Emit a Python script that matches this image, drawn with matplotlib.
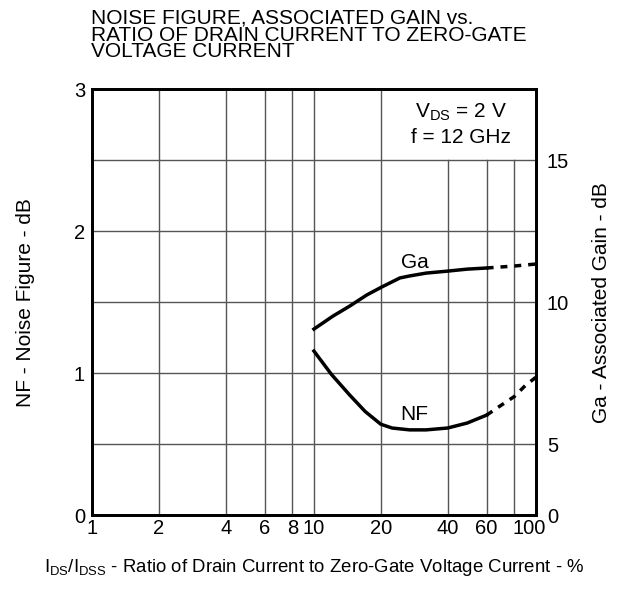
import matplotlib

matplotlib.use('Agg')
import matplotlib.pyplot as plt
import matplotlib.transforms as mtransforms

plt.rcParams['font.family'] = ['Liberation Sans', 'DejaVu Sans']

# IDS/IDSS ratio (%) and curve values
nf_x = [10, 12, 14.5, 17, 20, 22.5, 27, 32, 40, 49, 60]
nf_db = [1.155, 0.99, 0.845, 0.73, 0.64, 0.613, 0.60, 0.60, 0.613, 0.648, 0.704]
nf_x_ext = [60, 70, 80, 90, 100]
nf_db_ext = [0.704, 0.775, 0.835, 0.915, 0.97]

ga_x = [10, 12.2, 14.5, 17.3, 20.2, 24.4, 27, 32, 40, 49, 60]
ga_db = [9.05, 9.51, 9.86, 10.25, 10.53, 10.85, 10.92, 11.02, 11.09, 11.16, 11.2]
ga_x_ext = [60, 80, 100]
ga_db_ext = [11.2, 11.27, 11.34]

x_ticks = [1, 2, 4, 6, 8, 10, 20, 40, 60, 100]
x_grid_full = [2, 4, 6, 8, 10, 20]
x_grid_short = [40, 60, 80]
nf_ticks = [0, 1, 2, 3]
ga_ticks = [2.5, 5, 10, 15]
ga_tick_labels = ['0', '5', '10', '15']

fig = plt.figure(figsize=(6.26, 5.90), dpi=100)
ax = fig.add_axes([0.147, 0.127, 0.709, 0.722])
ax.set_xscale('log')
ax.set_xlim(1, 100)
ax.set_ylim(0, 3)

# grid (the upper right cell is left open for the conditions box)
for y in [0.5, 1.0, 1.5, 2.0, 2.5]:
    ax.axhline(y, color='#555555', linewidth=1.0, zorder=1)
for x in x_grid_full:
    ax.axvline(x, color='#555555', linewidth=1.0, zorder=1)
for x in x_grid_short:
    ax.axvline(x, ymax=2.5 / 3, color='#555555', linewidth=1.0, zorder=1)

ax.set_xticks(x_ticks)
ax.set_xticklabels([str(v) for v in x_ticks])
ax.xaxis.set_minor_locator(matplotlib.ticker.NullLocator())
ax.set_yticks(nf_ticks)
ax.tick_params(axis='x', length=0, labelsize=14.5, pad=3)
ax.tick_params(axis='y', length=0, labelsize=14.5, pad=5)
for s in ax.spines.values():
    s.set_linewidth(2)
# last x label sits a little left of the corner, as on the datasheet
last = ax.get_xticklabels()[-1]
last.set_transform(last.get_transform() + mtransforms.ScaledTranslation(-7 / 100, 0, fig.dpi_scale_trans))

ax.plot(nf_x, nf_db, color='black', linewidth=2.5, zorder=3)
ax.plot(nf_x_ext, nf_db_ext, color='black', linewidth=2.5, linestyle=(0, (2, 2)), zorder=3)

ax2 = ax.twinx()
ax2.set_ylim(2.5, 17.5)
ax2.plot(ga_x, ga_db, color='black', linewidth=2.5, zorder=3)
ax2.plot(ga_x_ext, ga_db_ext, color='black', linewidth=2.5, linestyle=(0, (2, 2)), zorder=3)
ax2.set_yticks(ga_ticks)
ax2.set_yticklabels(ga_tick_labels)
ax2.tick_params(length=0, labelsize=14.5, pad=8)
for s in ax2.spines.values():
    s.set_linewidth(2)

ax.set_ylabel('NF - Noise Figure - dB', fontsize=15)
ax.yaxis.set_label_coords(-0.151, 0.5)
ax.yaxis.label.set_va('center')
ax2.set_ylabel('Ga - Associated Gain - dB', fontsize=15)
ax2.yaxis.set_label_coords(1.149, 0.5)
ax2.yaxis.label.set_va('center')
ax.set_xlabel(r'I$\mathregular{_{DS}}$/I$\mathregular{_{DSS}}$ - Ratio of Drain Current to Zero-Gate Voltage Current - %',
              fontsize=13.4)
ax.xaxis.set_label_coords(0.5, -0.124)
ax.xaxis.label.set_va('center')

ax.text(0.831, 0.946, r'V$\mathregular{_{DS}}$ = 2 V', transform=ax.transAxes,
        fontsize=15, ha='center', va='center')
ax.text(0.831, 0.887, 'f = 12 GHz', transform=ax.transAxes,
        fontsize=15, ha='center', va='center')
ax.text(0.727, 0.594, 'Ga', transform=ax.transAxes, fontsize=15, ha='center', va='center')
ax.text(0.727, 0.235, 'NF', transform=ax.transAxes, fontsize=15, ha='center', va='center')

fig.text(0.145, 0.985, 'NOISE FIGURE, ASSOCIATED GAIN vs.\nRATIO OF DRAIN CURRENT TO ZERO-GATE\nVOLTAGE CURRENT',
         fontsize=15, ha='left', va='top', linespacing=0.85)

plt.savefig('out.png', dpi=100)
plt.close(fig)
